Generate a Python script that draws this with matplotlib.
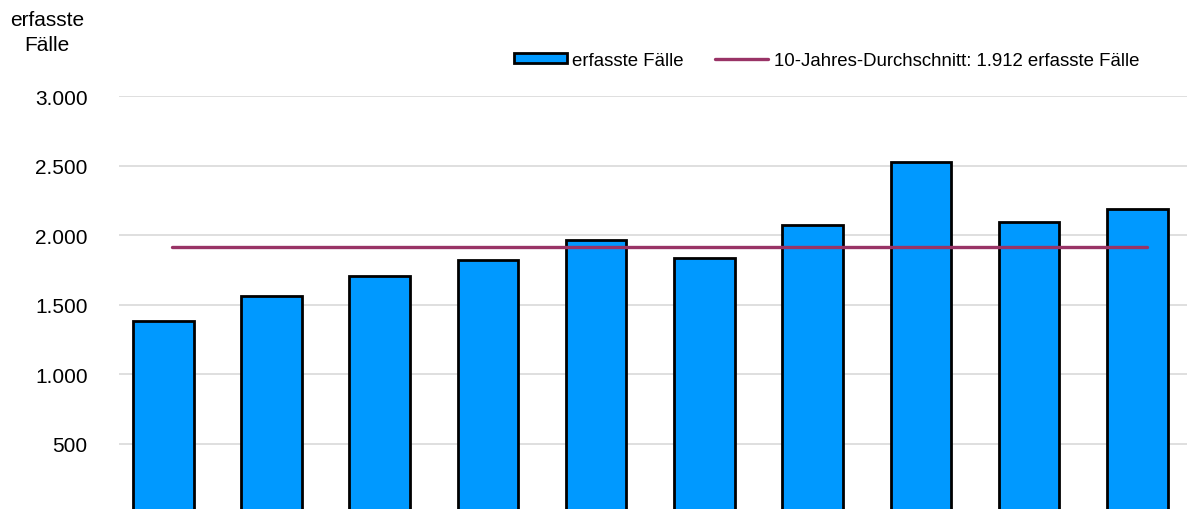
import matplotlib
matplotlib.use("Agg")
import matplotlib.pyplot as plt
from matplotlib.ticker import FuncFormatter

plt.rcParams['font.family'] = ['Liberation Sans', 'DejaVu Sans']

# data
years = ["2013", "2014", "2015", "2016", "2017", "2018", "2019", "2020", "2021", "2022"]
cases = [1384, 1561, 1703, 1822, 1968, 1836, 2073, 2522, 2095, 2191]
average = 1912
bar_label = "erfasste Fälle"
avg_label = "10-Jahres-Durchschnitt: 1.912 erfasste Fälle"
y_ticks = [500, 1000, 1500, 2000, 2500, 3000]

fig = plt.figure(figsize=(11.87, 5.10), dpi=100)
ax = fig.add_axes([119/1187, 0.0, 1 - 119/1187, 1 - 97/510])

x = list(range(len(years)))
bars = ax.bar(x, cases, width=0.56, color="#0099FF", edgecolor="black", linewidth=2.0,
              label=bar_label, zorder=3)
line, = ax.plot([0.076, 9.087], [average, average], color="#993366", linewidth=2.4,
                solid_capstyle="round", label=avg_label, zorder=4)

ax.set_xlim(-0.41, 9.46)
ax.set_ylim(31, 3000)
ax.set_yticks(y_ticks)
ax.yaxis.set_major_formatter(FuncFormatter(lambda v, p: f"{int(v):,}".replace(",", ".")))
ax.set_xticks([])
ax.tick_params(axis="y", length=0, pad=22.5, labelsize=15)
ax.grid(axis="y", color="#D9D9D9", linewidth=1.2, zorder=0)
for s in ax.spines.values():
    s.set_visible(False)

fig.text(47/1187, 1 - 33/510, "erfasste\nFälle", ha="center", va="center",
         fontsize=15, linespacing=1.35)

leg = fig.legend([bars, line], [bar_label, avg_label], loc="center right",
                 bbox_to_anchor=(1139/1187, 1 - 61/510),
                 ncol=2, frameon=False, fontsize=13.4, handlelength=2.85,
                 handleheight=0.42, handletextpad=0.3, columnspacing=1.67,
                 borderaxespad=0, borderpad=0)

fig.savefig("out.png", dpi=100)
